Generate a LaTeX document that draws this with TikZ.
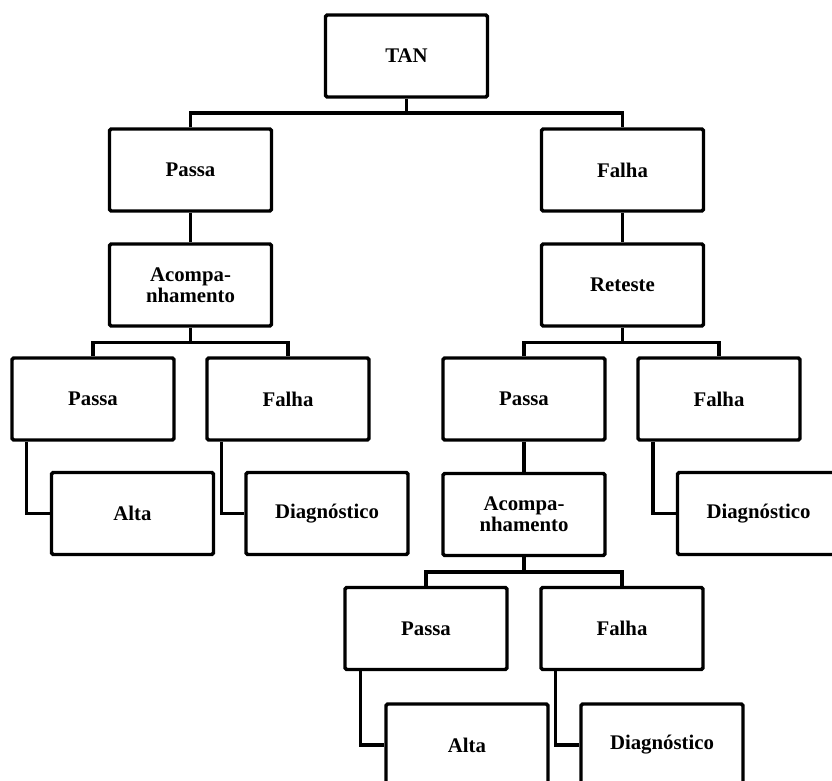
\documentclass[tikz,border=0pt]{standalone}
\usepackage{fontspec}
\setmainfont{Liberation Serif}
\newcommand\boxfont{\fontsize{15.6}{15.8}\selectfont\bfseries}
\begin{document}
\begin{tikzpicture}[x=0.75pt,y=-0.75pt,
  box/.style={draw, line width=2.6pt, rounded corners=1.2pt, fill=white,
    minimum width=121.5pt, minimum height=61.5pt, inner sep=0pt,
    align=center, font=\boxfont},
  conn/.style={line width=2.4pt}]
\useasboundingbox (0,0) rectangle (832,781);
\clip (0,0) rectangle (832,781);
% nodes
\node[box] (tan) at (406.5,56) {TAN};
\node[box] (p1) at (190.5,170) {Passa};
\node[box] (f1) at (622.5,170) {Falha};
\node[box] (ac1) at (190.5,285) {Acompa-\\nhamento};
\node[box] (re) at (622.5,285) {Reteste};
\node[box] (p2) at (93,399) {Passa};
\node[box] (f2) at (288,399) {Falha};
\node[box] (al1) at (132.5,513.5) {Alta};
\node[box] (dg1) at (327,513.5) {Diagnóstico};
\node[box] (p3) at (524,399) {Passa};
\node[box] (f3) at (719,399) {Falha};
\node[box] (ac2) at (524,514.5) {Acompa-\\nhamento};
\node[box] (dg2) at (758.5,513.5) {Diagnóstico};
\node[box] (p4) at (426,628.5) {Passa};
\node[box] (f4) at (622,628.5) {Falha};
\node[box] (al2) at (467,745) {Alta};
\node[box] (dg3) at (662,745) {Diagnóstico};
% bus levels
\coordinate (b1) at (0,113);
\coordinate (b2) at (0,342.5);
\coordinate (b3) at (0,572);
% connectors
\draw[conn] (tan.south) -- (tan.south |- b1);
\draw[conn] (p1.north) |- (f1.north |- b1) -- (f1.north);
\draw[conn] (p1.south) -- (ac1.north);
\draw[conn] (f1.south) -- (re.north);
\draw[conn] (ac1.south) -- (ac1.south |- b2);
\draw[conn] (p2.north) |- (f2.north |- b2) -- (f2.north);
\draw[conn] (re.south) -- (re.south |- b2);
\draw[conn] (p3.north) |- (f3.north |- b2) -- (f3.north);
\draw[conn] (p3.south) -- (ac2.north);
\draw[conn] (ac2.south) -- (ac2.south |- b3);
\draw[conn] (p4.north) |- (f4.north |- b3) -- (f4.north);
\draw[conn] ([xshift=12pt]p2.south west) |- (al1.west);
\draw[conn] ([xshift=12pt]f2.south west) |- (dg1.west);
\draw[conn] ([xshift=12.5pt]f3.south west) |- (dg2.west);
\draw[conn] ([xshift=13pt]p4.south west) |- (al2.west);
\draw[conn] ([xshift=12pt]f4.south west) |- (dg3.west);
\end{tikzpicture}
\end{document}
